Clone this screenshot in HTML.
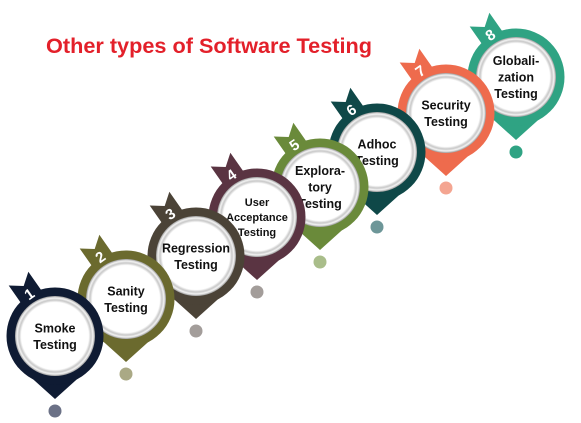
<!DOCTYPE html>
<html><head><meta charset="utf-8"><style>
html,body{margin:0;padding:0;background:#fff;}
svg{display:block;font-family:"Liberation Sans",sans-serif;}
</style></head><body>
<svg width="581" height="423" viewBox="0 0 581 423">
<defs>
<radialGradient id="g" cx="50%" cy="50%" r="50%">
<stop offset="0.84" stop-color="#ffffff"/>
<stop offset="0.9" stop-color="#c8c8c8"/>
<stop offset="0.95" stop-color="#f4f4f4"/>
<stop offset="1" stop-color="#9a9a9a"/>
</radialGradient>
</defs>
<text x="46" y="53" font-size="21" font-weight="bold" fill="#e3202a" textLength="326" lengthAdjust="spacingAndGlyphs">Other types of Software Testing</text>
<g id="pins"></g>
</svg>
<script>
var P=[
[55,336,"#0f1b33","#6b7186",["Smoke","Testing"],"1",12.5],
[126,299,"#6b6a2e","#aaa985",["Sanity","Testing"],"2",12.5],
[196,256,"#4b4337","#a39d9a",["Regression","Testing"],"3",12.5],
[257,217,"#5a3442","#a39d9a",["User","Acceptance","Testing"],"4",11],
[320,187,"#6a8a3a","#a9bd8a",["Explora-","tory","Testing"],"5",12.5],
[377,152,"#0f4848","#6d9698",["Adhoc","Testing"],"6",12.5],
[446,113,"#ee6b4d","#f4a591",["Security","Testing"],"7",12.5],
[516,77,"#2fa383","#2fa383",["Globali-","zation","Testing"],"8",12.5]
];
var s="";
for(var i=P.length-1;i>=0;i--){
 var p=P[i],x=p[0],y=p[1],c=p[2];
 s+='<circle cx="'+x+'" cy="'+(y+75)+'" r="6.5" fill="'+p[3]+'"/>';
 s+='<polygon points="'+(x-30)+','+(y+36)+' '+(x+30)+','+(y+36)+' '+x+','+(y+63)+'" fill="'+c+'"/>';
 s+='<circle cx="'+x+'" cy="'+y+'" r="48.5" fill="'+c+'"/>';
 s+='<g transform="translate('+(x-25)+','+(y-41)+') rotate(-35)"><polygon points="-12,-20 0,-11 12,-20 12,14 -12,14" fill="'+c+'"/><text x="0" y="4" font-size="15" font-weight="bold" fill="#fff" text-anchor="middle">'+p[5]+'</text></g>';
 s+='<circle cx="'+x+'" cy="'+y+'" r="40" fill="url(#g)"/>';
 var L=p[4],fs=p[6],lh=fs<12?15:16.5,y0=y-(L.length-1)*lh/2+fs*0.36;
 for(var j=0;j<L.length;j++) s+='<text x="'+x+'" y="'+(y0+j*lh)+'" font-size="'+fs+'" font-weight="bold" fill="#111" text-anchor="middle">'+L[j]+'</text>';
}
document.getElementById("pins").innerHTML=s;
</script>
</body></html>
